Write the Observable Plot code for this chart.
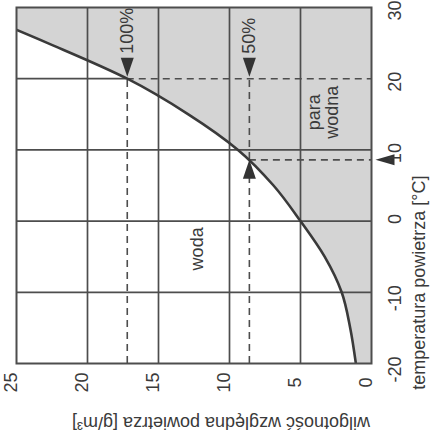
<!DOCTYPE html>
<html>
<head>
<meta charset="utf-8">
<script src="https://cdn.jsdelivr.net/npm/d3@7"></script>
<script src="https://cdn.jsdelivr.net/npm/@observablehq/plot@0.6"></script>
<style>
  html, body { margin: 0; padding: 0; background: #fff; }
  svg { display: block; }
</style>
</head>
<body>
<div id="chart"></div>
<script>
// Saturation curve: air temperature [°C] vs. max water vapour content [g/m³]
const satTemp = [-20, -15, -10, -5, 0, 5, 10, 15, 20, 25, 30];
const satHum  = [1.1, 1.5, 2.1, 3.3, 5.0, 6.9, 9.4, 12.9, 17.2, 22.8, 28.8];

// Axis ticks
const tempTicks = [-20, -10, 0, 10, 20, 30];
const humTicks  = [0, 5, 10, 15, 20, 25];
const gridTemps = [-10, 0, 10];
const gridHums  = [5, 10, 15, 20];

// Example: air at 20 °C, 100% vs 50% relative humidity, dew point
const exTemp = 20;
const hum100 = 17.2;
const hum50  = 8.6;
const dewTemp = 8.6;

// Texts
const xLabel = "wilgotność względna powietrza [g/m³]";
const yLabel = "temperatura powietrza [°C]";
const regionLabels = [
  {h: 12.25, t: -3.9, text: "woda"},
  {h: 3.4, t: 15.3, text: "para\nwodna"}
];
const pctLabels = [
  {h: hum100, t: exTemp, text: "100%"},
  {h: hum50, t: exTemp, text: "50%"}
];

const sat = satTemp.map((t, i) => ({t, h: satHum[i]}));
const ink = "#4d4d4d";
const txt = "#3a3a3a";

// elongated arrow head: tip at origin, body going up
const arrowHead = {
  draw(ctx) {
    ctx.moveTo(0, 0);
    ctx.lineTo(-6.5, -19);
    ctx.lineTo(6.5, -19);
    ctx.closePath();
  }
};
const arrowSide = {
  draw(ctx) {
    ctx.moveTo(0, 0);
    ctx.lineTo(-5.5, -19);
    ctx.lineTo(5.5, -19);
    ctx.closePath();
  }
};

const chart = Plot.plot({
  width: 432,
  height: 435,
  marginLeft: 16,
  marginRight: 61,
  marginTop: 7,
  marginBottom: 72,
  style: {fontFamily: "'Liberation Sans', Arial, sans-serif", background: "#fff"},
  x: {domain: [25, 0], axis: null},
  y: {domain: [-20, 30], axis: null},
  marks: [
    // shaded region (water vapour)
    Plot.areaX(sat, {y: "t", x1: "h", x2: 0, fill: "#d4d4d4", curve: "monotone-y", clip: true}),
    // grid
    Plot.ruleX(gridHums, {x: d => d, stroke: ink, strokeWidth: 1.7}),
    Plot.ruleY(gridTemps, {y: d => d, stroke: ink, strokeWidth: 1.7}),
    Plot.ruleY([exTemp], {y: d => d, x1: 25, x2: hum100, stroke: ink, strokeWidth: 1.7}),
    // dashed guide lines
    Plot.ruleX([hum100, hum50], {x: d => d, y1: -20, y2: exTemp, stroke: ink, strokeWidth: 1.6, strokeDasharray: "7,5"}),
    Plot.ruleY([exTemp], {y: d => d, x1: hum100, x2: 0, stroke: ink, strokeWidth: 1.6, strokeDasharray: "7,5"}),
    Plot.ruleY([dewTemp], {y: d => d, x1: hum50, x2: 0, stroke: ink, strokeWidth: 1.6, strokeDasharray: "7,5"}),
    // saturation curve
    Plot.line(sat, {x: "h", y: "t", stroke: "#3a3a3a", strokeWidth: 2.6, curve: "monotone-y", clip: true}),
    Plot.frame({stroke: ink, strokeWidth: 2}),
    // arrow heads
    Plot.dot([{h: hum100, t: exTemp}, {h: hum50, t: exTemp}], {x: "h", y: "t", symbol: arrowHead, fill: "#333", stroke: "none", dy: -2}),
    Plot.dot([{h: hum50, t: dewTemp}], {x: "h", y: "t", symbol: arrowHead, rotate: 180, fill: "#333", stroke: "none", dy: 0}),
    Plot.dot([{h: 0, t: dewTemp}], {x: "h", y: "t", symbol: arrowSide, rotate: 90, fill: "#333", stroke: "none", dx: 4}),
    // percentage labels
    Plot.text(pctLabels, {x: "h", y: "t", text: "text", rotate: -90, textAnchor: "start", dy: -25, fontSize: 18, fill: txt}),
    // region labels
    Plot.text(regionLabels, {x: "h", y: "t", text: "text", rotate: -90, fontSize: 18, lineHeight: 1.0, fill: txt}),
    // tick labels
    Plot.text(tempTicks, {y: d => d, frameAnchor: "right", dx: 24, dy: -7, rotate: -90, text: d => String(d), fontSize: 18, fill: txt}),
    Plot.text(humTicks, {x: d => d, frameAnchor: "bottom", dy: 19, rotate: -90, text: d => String(d), fontSize: 18, fill: txt}),
    // axis titles
    Plot.text([yLabel], {frameAnchor: "right", dx: 48, dy: -10, rotate: -90, text: d => d, fontSize: 18, fill: txt}),
    Plot.text([xLabel], {frameAnchor: "bottom", dy: 53, dx: 27, rotate: 180, text: d => d, fontSize: 18, fill: txt})
  ]
});
document.getElementById("chart").append(chart);
</script>
</body>
</html>
